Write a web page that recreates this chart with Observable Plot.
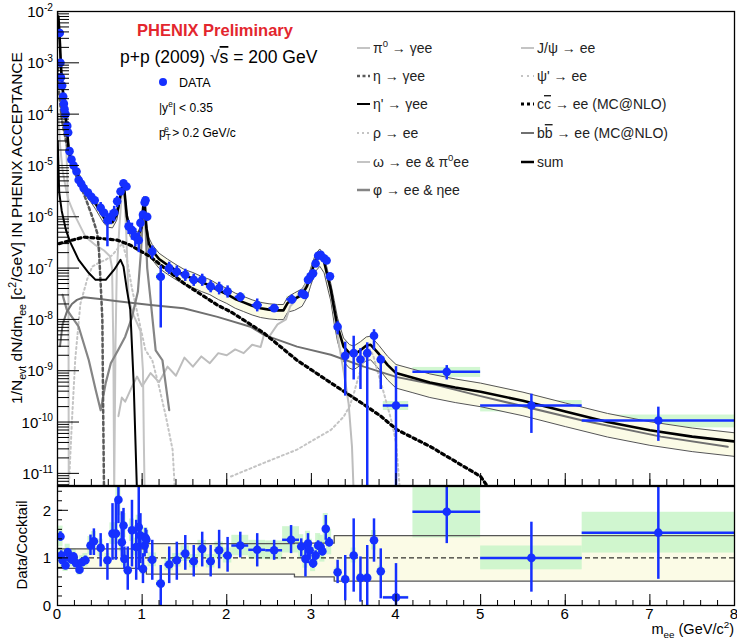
<!DOCTYPE html>
<html><head><meta charset="utf-8">
<script src="https://cdn.jsdelivr.net/npm/d3@7"></script>
<script src="https://cdn.jsdelivr.net/npm/@observablehq/plot@0.6"></script>
<style>
body{margin:0;background:#fff;}
#wrap{position:relative;width:737px;height:641px;overflow:hidden;font-family:"Liberation Sans",Arial,Helvetica,sans-serif;}
#wrap svg{position:absolute;left:0;overflow:visible;}
</style></head><body><div id="wrap"></div>
<script>
// ---------- DATA ----------
// top panel data: [mass, yield, errLow, errHigh, halfBinWidth, sysFraction]
const topData = [
 [0.027,3.8e-3,null,null,0,0.12],[0.035,1.0e-3,null,null,0,0.12],[0.04,5.2e-4,null,null,0,0.12],
 [0.055,3.6e-4,null,null,0,0.12],[0.067,2.2e-4,null,null,0,0.12],[0.075,1.6e-4,null,null,0,0.12],
 [0.083,1.25e-4,null,null,0,0.12],[0.095,1.0e-4,null,null,0,0.12],[0.115,5.9e-5,null,null,0,0.12],
 [0.126,4.4e-5,null,null,0,0.12],[0.142,1.9e-5,null,null,0,0.12],[0.165,1.3e-5,null,null,0,0.12],
 [0.19,1.0e-5,null,null,0,0.12],[0.225,7.6e-6,null,null,0,0.12],[0.25,5.2e-6,null,null,0,0.12],
 [0.28,4.4e-6,null,null,0,0.12],[0.31,3.6e-6,null,null,0,0.12],[0.36,2.95e-6,null,null,0,0.12],
 [0.40,2.45e-6,null,null,0,0.12],[0.44,2.1e-6,null,null,0,0.12],[0.51,1.5e-6,1.1e-6,1.9e-6,0,0.12],
 [0.55,1.2e-6,null,null,0,0.12],[0.59,8.5e-7,2.6e-7,1.1e-6,0,0.12],[0.63,1.0e-6,7e-7,1.3e-6,0,0.12],
 [0.67,1.2e-6,8e-7,1.6e-6,0,0.12],[0.705,2.0e-6,1.5e-6,2.5e-6,0,0.12],[0.745,3.1e-6,null,null,0,0.12],
 [0.78,4.5e-6,null,null,0,0.12],[0.815,3.9e-6,null,null,0,0.12],[0.84,6.5e-7,4.5e-7,8.5e-7,0,0.12],
 [0.88,5.5e-7,3.5e-7,7.5e-7,0,0.12],[0.92,4.1e-7,2.6e-7,5.8e-7,0,0.12],[0.96,3.5e-7,2e-7,5e-7,0,0.12],
 [0.98,7.6e-7,5e-7,1e-6,0,0.12],[1.01,1.1e-6,null,null,0,0.12],[1.03,1.9e-6,null,null,0,0.12],
 [1.04,2.1e-6,null,null,0,0.12],[1.06,1.0e-6,null,null,0,0.12],[1.12,2.1e-7,1.5e-7,2.7e-7,0.05,0.15],
 [1.22,6.8e-8,6.8e-9,1.1e-7,0.05,0.15],[1.32,1.0e-7,7.5e-8,1.3e-7,0.05,0.15],[1.41,8.5e-8,6.5e-8,1.1e-7,0.05,0.15],
 [1.51,7.4e-8,5.5e-8,9.5e-8,0.05,0.15],[1.61,5.9e-8,4.4e-8,7.6e-8,0.05,0.15],[1.71,5.9e-8,4.4e-8,7.6e-8,0.05,0.15],
 [1.81,4.4e-8,3.3e-8,5.7e-8,0.05,0.15],[1.91,4.1e-8,3e-8,5.3e-8,0.05,0.15],[2.01,3.5e-8,2.6e-8,4.5e-8,0.05,0.15],
 [2.16,2.75e-8,2.2e-8,3.3e-8,0.06,0.15],[2.36,1.9e-8,1.4e-8,2.5e-8,0.06,0.15],[2.56,1.66e-8,1.4e-8,1.95e-8,0.06,0.15],
 [2.77,2.45e-8,2e-8,3e-8,0.06,0.15],[2.89,3.2e-8,null,null,0,0.15],[2.92,3.0e-8,null,null,0,0.15],
 [2.96,5.9e-8,null,null,0,0.15],[2.99,6.9e-8,null,null,0,0.15],[3.02,7.9e-8,null,null,0,0.15],
 [3.05,1.23e-7,null,null,0,0.15],[3.08,1.74e-7,null,null,0,0.15],[3.11,1.82e-7,null,null,0,0.15],
 [3.15,1.55e-7,null,null,0,0.15],[3.18,1.41e-7,null,null,0,0.15],[3.22,6.9e-8,null,null,0,0.15],
 [3.31,7.2e-9,5e-9,9e-9,0,0.15],[3.40,1.95e-9,3.2e-10,3.6e-9,0,0.15],[3.50,2.2e-9,6.6e-10,4.7e-9,0,0.15],
 [3.58,1.66e-9,4.3e-10,2.7e-9,0,0.15],[3.66,2.2e-9,1e-12,3.5e-9,0,0.15],[3.74,4.8e-9,2.5e-9,6.3e-9,0,0.15],
 [3.82,1.66e-9,4.3e-10,2e-9,0,0.15],[4.0,2.1e-10,1e-12,1.2e-9,0.15,0.2],[4.6,9.5e-10,6.6e-10,1.26e-9,0.4,0.22],
 [5.6,2.1e-10,6e-11,3.5e-10,0.6,0.25],[7.1,1.07e-10,4.2e-11,1.95e-10,0.9,0.28]
];

// ratio panel data: [mass, data/cocktail, errLow, errHigh, halfBinWidth, sysFraction]
const ratioData = [
 [0.035,1.45,1.35,1.55,0,0.15],[0.044,1.05,0.95,1.15,0,0.15],[0.06,0.95,0.87,1.03,0,0.15],
 [0.095,0.84,0.77,0.91,0,0.15],[0.12,1.12,1.04,1.2,0,0.15],[0.145,1.0,0.92,1.08,0,0.15],
 [0.17,0.96,0.88,1.04,0,0.15],[0.19,1.03,0.95,1.11,0,0.15],[0.22,0.89,0.8,0.98,0,0.15],
 [0.26,0.75,0.67,0.83,0,0.15],[0.29,0.91,0.83,0.99,0,0.15],[0.33,0.95,0.86,1.04,0,0.15],
 [0.39,1.26,1.05,1.48,0,0.15],[0.43,1.35,1.05,1.61,0,0.15],[0.51,1.21,0.81,1.51,0,0.15],
 [0.59,0.95,0.53,1.30,0,0.15],[0.65,1.51,0.95,2.14,0,0.15],[0.69,1.51,0.95,2.21,0,0.15],
 [0.72,2.22,1.72,2.49,0,0.15],[0.76,1.33,1.02,1.97,0,0.15],[0.78,1.68,1.30,2.04,0,0.15],
 [0.79,0.98,0.77,1.23,0,0.15],[0.83,0.74,0.32,1.23,0,0.15],[0.88,1.58,0.81,2.21,0,0.15],
 [0.93,1.23,0.53,1.79,0,0.15],[0.96,1.65,0.74,2.53,0,0.15],[0.98,1.47,0.88,1.93,0,0.15],
 [1.01,0.77,0.46,1.09,0,0.15],[1.03,1.26,1.02,1.51,0,0.15],[1.04,1.42,1.2,1.62,0,0.15],
 [1.05,1.38,1.09,1.58,0,0.15],[1.12,0.96,0.53,1.37,0.05,0.15],[1.22,0.46,0,0.84,0.05,0.15],
 [1.32,0.86,0.46,1.23,0.05,0.15],[1.41,0.95,0.53,1.33,0.05,0.15],[1.51,1.09,0.74,1.47,0.05,0.15],
 [1.61,0.93,0.60,1.26,0.05,0.15],[1.71,1.19,0.81,1.54,0.05,0.15],[1.81,0.93,0.60,1.26,0.05,0.15],
 [1.91,1.16,0.77,1.58,0.05,0.15],[2.01,1.05,0.70,1.43,0.05,0.15],[2.16,1.26,1.0,1.54,0.1,0.17],
 [2.36,1.17,0.81,1.51,0.1,0.17],[2.56,1.16,0.95,1.37,0.1,0.17],[2.76,1.38,1.09,1.68,0.1,0.2],
 [2.88,1.24,1.02,1.40,0,0.2],[2.93,0.98,0.60,1.23,0,0.2],[2.96,1.30,0.88,1.51,0,0.2],
 [2.98,1.16,0.95,1.35,0,0.2],[3.02,0.89,0.78,1.0,0,0.2],[3.05,1.05,0.95,1.15,0,0.2],
 [3.08,1.26,1.16,1.36,0,0.2],[3.11,1.23,1.13,1.33,0,0.2],[3.13,1.14,1.04,1.24,0,0.2],
 [3.17,1.61,1.37,1.89,0,0.2],[3.21,1.33,1.23,1.43,0,0.2],[3.31,0.70,0.46,0.95,0,0.15],
 [3.40,0.55,0.1,1.05,0,0.15],[3.50,1.05,0.28,1.82,0,0.15],[3.58,0.58,0.07,1.02,0,0.15],
 [3.66,0.58,0,1.26,0,0.15],[3.74,1.37,0.91,1.82,0,0.15],[3.82,0.72,0.14,1.19,0,0.15],
 [4.0,0.17,0,0.88,0.15,0.15],[4.6,1.97,1.3,2.6,0.4,0.28],[5.6,1.0,0.28,1.75,0.6,0.25],
 [7.1,1.53,0.55,2.6,0.9,0.28]
];

// cocktail components: [mass, yield]
const pi0Curve = [[0.002,1.2e-2],[0.01,6e-3],[0.02,3e-3],[0.03,1.5e-3],[0.05,4e-4],[0.07,1.5e-4],[0.09,5e-5],[0.105,2e-5],[0.115,7e-6],[0.122,2e-6],[0.127,3e-7],[0.13,2e-8],[0.133,4e-12]];
const etaCurve = [[0.003,8e-4],[0.02,2.5e-4],[0.05,8e-5],[0.1,3e-5],[0.15,1.4e-5],[0.2,8e-6],[0.25,5e-6],[0.3,3.1e-6],[0.35,1.9e-6],[0.41,1e-6],[0.47,4.8e-7],[0.49,2.2e-7],[0.51,5e-8],[0.53,1e-8],[0.54,1.5e-10],[0.55,4e-12]];
const etaPrimeCurve = [[0.003,3e-5],[0.02,3e-6],[0.05,1.3e-6],[0.1,5.5e-7],[0.15,3.2e-7],[0.25,1.45e-7],[0.37,8e-8],[0.45,5.9e-8],[0.57,5.9e-8],[0.67,9.3e-8],[0.745,1.45e-7],[0.78,1.07e-7],[0.82,3.8e-8],[0.86,1.55e-8],[0.9,5.8e-10],[0.94,4e-12]];
const rhoCurve = [[0.13,4e-12],[0.17,1e-10],[0.21,1.7e-9],[0.27,2e-8],[0.35,6e-8],[0.41,1.07e-7],[0.5,1.3e-7],[0.57,1.45e-7],[0.65,1.8e-7],[0.72,2.5e-7],[0.77,3e-7],[0.82,1.5e-7],[0.88,4e-8],[0.96,1e-8],[1.04,2.5e-9],[1.12,1.6e-9],[1.2,4.9e-10],[1.28,1.3e-10],[1.36,2.9e-11],[1.39,4e-12]];
const omegaCurve = [[0.01,1e-4],[0.03,2.5e-5],[0.06,8e-6],[0.1,3.5e-6],[0.13,2.1e-6],[0.2,1.1e-6],[0.33,4.1e-7],[0.45,2.8e-7],[0.55,2.2e-7],[0.62,1.7e-7],[0.645,1e-7],[0.66,3e-9],[0.67,4e-12],[0.685,3e-9],[0.7,8e-8],[0.73,6e-7],[0.76,2.8e-6],[0.775,4e-6],[0.79,2.5e-6],[0.81,6e-7],[0.82,2.2e-7],[0.84,2.5e-8],[0.9,1.2e-8],[0.98,6e-9],[1.01,1e-9],[1.02,4.5e-11],[1.03,4e-12]];
const phiCurve = [[0.06,3e-8],[0.11,1.55e-8],[0.25,7.2e-9],[0.37,1.6e-9],[0.45,4.3e-10],[0.51,1.7e-10],[0.57,5.8e-10],[0.63,1.4e-9],[0.72,2.6e-9],[0.8,4.6e-9],[0.88,1.1e-8],[0.95,3.5e-8],[0.99,2.5e-7],[1.01,1.2e-6],[1.02,1.9e-6],[1.03,1.6e-6],[1.045,4e-7],[1.06,1e-7],[1.1,2.4e-8],[1.16,2.5e-9],[1.24,1.6e-9],[1.32,1.7e-10]];
const jpsiCurve = [[0.72,1.3e-10],[0.76,3e-10],[0.8,2.5e-10],[0.88,4.9e-10],[0.94,7.7e-10],[1.0,5e-10],[1.1,9e-10],[1.2,6e-10],[1.3,1.2e-9],[1.4,8e-10],[1.5,1.8e-9],[1.6,1.2e-9],[1.7,1.9e-9],[1.8,1.4e-9],[1.9,2.2e-9],[2.0,2.0e-9],[2.1,2.6e-9],[2.2,2.2e-9],[2.3,3.2e-9],[2.4,2.9e-9],[2.44,5e-9],[2.5,4.6e-9],[2.6,8e-9],[2.7,1e-8],[2.75,1.8e-8],[2.8,2.2e-8],[2.85,3.2e-8],[2.9,3.8e-8],[2.95,5.5e-8],[3.0,8e-8],[3.05,1.3e-7],[3.1,1.65e-7],[3.13,1.5e-7],[3.17,1.1e-7],[3.22,4e-8],[3.28,1e-8],[3.33,3e-9],[3.38,1e-9],[3.44,2.3e-10],[3.48,3.3e-11],[3.5,4e-12]];
const psiPrimeCurve = [[2.05,8.7e-12],[2.44,1.6e-11],[2.83,2.9e-11],[3.23,7e-11],[3.38,1.26e-10],[3.45,2e-10],[3.5,3.5e-10],[3.55,7e-10],[3.6,1.3e-9],[3.65,2.2e-9],[3.69,2.6e-9],[3.73,2e-9],[3.78,1e-9],[3.85,4e-10],[3.95,1e-10],[4.0,4e-11],[4.05,4e-12]];
const ccbarCurve = [[0.02,3e-7],[0.11,3.3e-7],[0.31,4e-7],[0.5,3.8e-7],[0.71,3.5e-7],[0.86,2.8e-7],[1.1,1.65e-7],[1.49,5.1e-8],[1.89,1.9e-8],[2.05,1.4e-8],[2.28,8e-9],[2.44,5.4e-9],[2.83,1.6e-9],[3.23,5.8e-10],[3.62,2.2e-10],[3.82,1.3e-10],[4.01,7.1e-11],[4.41,3.3e-11],[5.0,8.7e-12],[5.1,5e-12]];
const bbbarCurve = [[0.03,3e-9],[0.06,8e-9],[0.11,1.4e-8],[0.17,2e-8],[0.23,2.4e-8],[0.31,2.7e-8],[0.5,2.5e-8],[0.71,2.25e-8],[1.1,1.9e-8],[1.49,1.65e-8],[1.89,1.12e-8],[2.28,7.2e-9],[2.44,5e-9],[2.83,2.95e-9],[3.23,2.05e-9],[3.62,1.2e-9],[4.01,7.5e-10],[4.41,5.6e-10],[5.0,3.2e-10],[6.18,1.1e-10],[7.13,5.2e-11],[7.92,3.3e-11]];
const sumCurve = [[0.01,8e-3],[0.02,4.5e-3],[0.03,2.2e-3],[0.04,9e-4],[0.05,5e-4],[0.06,3.3e-4],[0.07,2.3e-4],[0.08,1.6e-4],[0.09,1.15e-4],[0.1,8e-5],[0.11,5.5e-5],[0.12,3.5e-5],[0.13,2.3e-5],[0.14,1.7e-5],[0.16,1.3e-5],[0.18,1.05e-5],[0.2,8.8e-6],[0.25,6e-6],[0.3,4.2e-6],[0.35,3.1e-6],[0.4,2.4e-6],[0.45,1.8e-6],[0.5,1.3e-6],[0.55,9.5e-7],[0.6,8e-7],[0.65,7.8e-7],[0.7,1.1e-6],[0.74,2.4e-6],[0.77,4.2e-6],[0.79,3.3e-6],[0.82,1.0e-6],[0.86,5.2e-7],[0.9,4.6e-7],[0.95,4.2e-7],[0.99,6e-7],[1.01,1.4e-6],[1.02,2.1e-6],[1.035,1.5e-6],[1.05,6e-7],[1.08,3e-7],[1.12,2.2e-7],[1.2,1.5e-7],[1.3,1.15e-7],[1.4,9e-8],[1.5,7.2e-8],[1.6,6.3e-8],[1.7,5.3e-8],[1.8,4.6e-8],[1.9,3.7e-8],[2.0,3.1e-8],[2.1,2.5e-8],[2.2,2.15e-8],[2.3,1.85e-8],[2.4,1.65e-8],[2.5,1.55e-8],[2.6,1.5e-8],[2.67,1.5e-8],[2.72,2.1e-8],[2.8,2.5e-8],[2.89,3.0e-8],[2.95,4.5e-8],[2.99,7.4e-8],[3.05,1.45e-7],[3.1,1.8e-7],[3.15,1.35e-7],[3.2,6e-8],[3.23,3.8e-8],[3.27,1.6e-8],[3.31,7.2e-9],[3.38,2.95e-9],[3.45,2.2e-9],[3.5,2.05e-9],[3.58,2.5e-9],[3.65,3.1e-9],[3.7,3.2e-9],[3.75,2.6e-9],[3.8,2.1e-9],[3.9,1.3e-9],[4.0,9e-10],[4.2,7.3e-10],[4.4,5.9e-10],[4.7,4.7e-10],[5.0,3.9e-10],[5.5,2.6e-10],[6.0,1.6e-10],[6.5,1.0e-10],[7.0,6.9e-11],[7.5,5.2e-11],[8.0,4.2e-11]];

// cocktail systematic band (relative), step edges in mass
const bandEdges = [0, 1.05, 2.8, 3.27, 8];
const bandLow = [0.78, 0.66, 0.6, 0.51];
const bandHigh = [1.19, 1.30, 1.31, 1.47];

// axes
const yExponents = [-2,-3,-4,-5,-6,-7,-8,-9,-10,-11];
const xTickLabels = [0,1,2,3,4,5,6,7,8];
const ratioTickLabels = [0,1,2];

// ---------- DRAW ----------
const blue = "#1530ff";
const lightGray = "#c4c4c4";
const wrap = document.getElementById("wrap");

const segIndex = m => { for (let i = 0; i < bandLow.length; i++) if (m < bandEdges[i+1]) return i; return bandLow.length - 1; };
const bandTop = sumCurve.map(([m, y]) => ({m, lo: y * bandLow[segIndex(m)], hi: y * bandHigh[segIndex(m)]}));
const bandRatio = bandEdges.map((e, i) => ({m: e, lo: bandLow[Math.min(i, bandLow.length-1)], hi: bandHigh[Math.min(i, bandHigh.length-1)]}));

const yMajor = yExponents.map(e => Math.pow(10, e));
const yMinor = [];
for (let e = -12; e <= -3; e++) for (let k = 2; k <= 9; k++) { const v = k * Math.pow(10, e); if (v > 5.8e-12 && v < 1e-2) yMinor.push(v); }
const xMinor = d3.range(0, 8.001, 0.2).map(v => +v.toFixed(2));
const rMinor = d3.range(0, 2.501, 0.2).map(v => +v.toFixed(2));

const crv = (arr, o) => Plot.line(arr, {x: d => d[0], y: d => d[1], clip: true, strokeLinejoin: "round", ...o});
const noText = () => "";

const topPlot = Plot.plot({
  width: 737, height: 486, marginLeft: 57, marginRight: 3, marginTop: 11, marginBottom: 1,
  x: {domain: [0, 8], axis: null},
  y: {type: "log", domain: [5.8e-12, 1e-2], axis: null},
  style: {background: "transparent"},
  marks: [
    Plot.rect(topData, {x1: d => d[0] - Math.max(d[4], 0.03), x2: d => d[0] + Math.max(d[4], 0.03), y1: d => d[1]*(1-d[5]), y2: d => d[1]*(1+d[5]), fill: "#d2f7d2", clip: true}),
    Plot.areaY(bandTop, {x: "m", y1: "lo", y2: "hi", fill: "#fbfbe6", clip: true}),
    Plot.line(bandTop, {x: "m", y: "lo", stroke: "#555", strokeWidth: 1, clip: true}),
    Plot.line(bandTop, {x: "m", y: "hi", stroke: "#555", strokeWidth: 1, clip: true}),
    crv(psiPrimeCurve, {stroke: lightGray, strokeWidth: 2, strokeDasharray: "2,3"}),
    crv(jpsiCurve, {stroke: "#bdbdbd", strokeWidth: 2}),
    crv(rhoCurve, {stroke: lightGray, strokeWidth: 2, strokeDasharray: "2,3"}),
    crv(omegaCurve, {stroke: lightGray, strokeWidth: 2}),
    crv(pi0Curve, {stroke: lightGray, strokeWidth: 2}),
    crv(phiCurve, {stroke: "#858585", strokeWidth: 2.2}),
    crv(bbbarCurve, {stroke: "#707070", strokeWidth: 2}),
    crv(etaCurve, {stroke: "#5a5a5a", strokeWidth: 2.5, strokeDasharray: "3,3"}),
    crv(etaPrimeCurve, {stroke: "#000", strokeWidth: 2}),
    crv(ccbarCurve, {stroke: "#000", strokeWidth: 3.2, strokeDasharray: "3,3.5"}),
    crv(sumCurve, {stroke: "#000", strokeWidth: 2.6}),
    Plot.ruleX(topData.filter(d => d[2] != null), {x: d => d[0], y1: d => d[2], y2: d => d[3], stroke: blue, strokeWidth: 2.5, clip: true}),
    Plot.ruleY(topData.filter(d => d[4] > 0), {y: d => d[1], x1: d => d[0] - d[4], x2: d => d[0] + d[4], stroke: blue, strokeWidth: 2.5, clip: true}),
    Plot.dot(topData, {x: d => d[0], y: d => d[1], r: 4.3, fill: blue, stroke: "none", clip: true}),
    Plot.axisY(yMajor, {anchor: "left", tickSize: -22, tickFormat: noText, label: null, stroke: "#000", strokeWidth: 1}),
    Plot.axisY(yMinor, {anchor: "left", tickSize: -12, tickFormat: noText, label: null, stroke: "#000", strokeWidth: 1}),
    Plot.axisX(xTickLabels, {anchor: "bottom", tickSize: -12, tickFormat: noText, label: null}),
    Plot.axisX(xMinor, {anchor: "bottom", tickSize: -6, tickFormat: noText, label: null}),
    Plot.frame({stroke: "#000", strokeWidth: 1.3})
  ]
});
topPlot.style.top = "0px";
wrap.appendChild(topPlot);

const botPlot = Plot.plot({
  width: 737, height: 156, marginLeft: 57, marginRight: 3, marginTop: 1, marginBottom: 36,
  x: {domain: [0, 8], axis: null},
  y: {domain: [0, 2.5], axis: null},
  style: {background: "transparent"},
  marks: [
    Plot.areaY(bandRatio, {x: "m", y1: "lo", y2: "hi", curve: "step-after", fill: "#fbfbe6"}),
    Plot.rect(ratioData, {x1: d => d[0] - Math.max(d[4], 0.03), x2: d => d[0] + Math.max(d[4], 0.03), y1: d => d[1]*(1-d[5]), y2: d => d[1]*(1+d[5]), fill: "#c8f5c8", fillOpacity: 0.85, clip: true}),
    Plot.line(bandRatio, {x: "m", y: "lo", curve: "step-after", stroke: "#555", strokeWidth: 1.3}),
    Plot.line(bandRatio, {x: "m", y: "hi", curve: "step-after", stroke: "#555", strokeWidth: 1.3}),
    Plot.ruleY([1], {stroke: "#000", strokeWidth: 1, strokeDasharray: "5,3"}),
    Plot.ruleX(ratioData, {x: d => d[0], y1: d => d[2], y2: d => d[3], stroke: blue, strokeWidth: 2.5, clip: true}),
    Plot.ruleY(ratioData.filter(d => d[4] > 0), {y: d => d[1], x1: d => d[0] - d[4], x2: d => d[0] + d[4], stroke: blue, strokeWidth: 2.5, clip: true}),
    Plot.dot(ratioData, {x: d => d[0], y: d => d[1], r: 4.3, fill: blue, stroke: "none", clip: true}),
    Plot.axisY(ratioTickLabels, {anchor: "left", tickSize: -11, tickFormat: noText, label: null}),
    Plot.axisY(rMinor, {anchor: "left", tickSize: -5, tickFormat: noText, label: null}),
    Plot.axisX(xTickLabels, {anchor: "bottom", tickSize: -11, tickFormat: noText, label: null}),
    Plot.axisX(xMinor, {anchor: "bottom", tickSize: -5, tickFormat: noText, label: null}),
    Plot.frame({stroke: "#000", strokeWidth: 1.3})
  ]
});
botPlot.style.top = "485px";
wrap.appendChild(botPlot);

// ---------- TEXT OVERLAY ----------
const ov = d3.select(wrap).append("svg").attr("width", 737).attr("height", 641).style("top", "0px")
  .style("pointer-events", "none").attr("font-family", '"Liberation Sans",Arial,Helvetica,sans-serif');

function rich(g, x, y, parts, size, opts = {}) {
  const t = g.append("text").attr("x", x).attr("y", y).attr("font-size", size).attr("fill", opts.fill || "#000");
  if (opts.anchor) t.attr("text-anchor", opts.anchor);
  if (opts.weight) t.attr("font-weight", opts.weight);
  if (opts.transform) t.attr("transform", opts.transform);
  let shift = 0;
  for (const p of parts) {
    const [s, kind, dx] = Array.isArray(p) ? p : [p, "n"];
    const ts = t.append("tspan").text(s);
    let target = 0;
    if (kind === "sup") { target = -size * 0.42; ts.attr("font-size", size * 0.68); }
    else if (kind === "sub") { target = size * 0.25; ts.attr("font-size", size * 0.68); }
    else if (kind === "over") { ts.style("text-decoration", "overline"); }
    if (target !== shift) { ts.attr("dy", target - shift); shift = target; }
    if (dx) ts.attr("dx", dx);
  }
  return t;
}

// y tick labels (top, log)
const ys = topPlot.scale("y"), xs = topPlot.scale("x");
for (const e of yExponents) {
  const py = ys.apply(Math.pow(10, e));
  rich(ov, 53, py + 6, ["10", [String(e), "sup"]], 15, {anchor: "end"});
}
// ratio y tick labels
const rys = botPlot.scale("y");
for (const v of ratioTickLabels) {
  rich(ov, 51, 485 + rys.apply(v) + 6, [String(v)], 15, {anchor: "end"});
}
// x tick labels
for (const v of xTickLabels) {
  rich(ov, xs.apply(v), 619, [String(v)], 15, {anchor: "middle"});
}
// axis titles
rich(ov, 734, 634, ["m", ["ee", "sub"], ["\u00a0(GeV/c", "n"], ["2", "sup"], [")", "n"]], 14.5, {anchor: "end"});
rich(ov, 0, 0, ["Data/Cocktail"], 15, {anchor: "middle", transform: "translate(27,545) rotate(-90)"});
rich(ov, 0, 0, ["1/N", ["evt", "sub"], [" dN/dm", "n"], ["ee", "sub"], [" [c", "n"], ["2", "sup"], ["/GeV] IN PHENIX ACCEPTANCE", "n"]], 15.5,
  {anchor: "middle", transform: "translate(22,228) rotate(-90)"});

// titles
rich(ov, 215, 36, ["PHENIX Preliminary"], 16.5, {anchor: "middle", weight: "bold", fill: "#e3262e"});
rich(ov, 120, 63, ["p+p (2009) \u221a", ["s", "over"], [" = 200 GeV", "n"]], 17.5);
ov.append("circle").attr("cx", 163).attr("cy", 82).attr("r", 4).attr("fill", blue);
rich(ov, 179, 87, ["DATA"], 12.5);
rich(ov, 159, 112, ["|y", ["e", "sup"], ["| < 0.35", "n"]], 12);
rich(ov, 159, 137, ["p", ["T", "sub"], ["e", "sup", -5.5], [" > 0.2 GeV/c", "n"]], 12);

// legend
const legend = [
  {x: 357, y: 48, st: {stroke: lightGray, w: 2}, parts: ["\u03c0", ["0", "sup"], [" \u2192 \u03b3ee", "n"]]},
  {x: 357, y: 76, st: {stroke: "#5a5a5a", w: 2.5, dash: "3,2.5"}, parts: ["\u03b7 \u2192 \u03b3ee"]},
  {x: 357, y: 104, st: {stroke: "#000", w: 2}, parts: ["\u03b7' \u2192 \u03b3ee"]},
  {x: 357, y: 133, st: {stroke: lightGray, w: 2, dash: "2,3"}, parts: ["\u03c1 \u2192 ee"]},
  {x: 357, y: 162, st: {stroke: lightGray, w: 2}, parts: ["\u03c9 \u2192 ee & \u03c0", ["0", "sup"], ["ee", "n"]]},
  {x: 357, y: 190, st: {stroke: "#858585", w: 2.5}, parts: ["\u03c6 \u2192 ee & \u03b7ee"]},
  {x: 521, y: 48, st: {stroke: lightGray, w: 2}, parts: ["J/\u03c8 \u2192 ee"]},
  {x: 521, y: 76, st: {stroke: lightGray, w: 2, dash: "2,4"}, parts: ["\u03c8' \u2192 ee"]},
  {x: 521, y: 104, st: {stroke: "#000", w: 3, dash: "3,3"}, parts: ["c", ["c", "over"], [" \u2192 ee (MC@NLO)", "n"]]},
  {x: 521, y: 133, st: {stroke: "#707070", w: 2}, parts: ["b", ["b", "over"], [" \u2192 ee (MC@NLO)", "n"]]},
  {x: 521, y: 162, st: {stroke: "#000", w: 2.5}, parts: ["sum"]}
];
for (const L of legend) {
  const ln = ov.append("line").attr("x1", L.x).attr("x2", L.x + 13).attr("y1", L.y).attr("y2", L.y)
    .attr("stroke", L.st.stroke).attr("stroke-width", L.st.w);
  if (L.st.dash) ln.attr("stroke-dasharray", L.st.dash);
  rich(ov, L.x + 16, L.y + 5, L.parts, 14, {fill: "#222"});
}
</script></body></html>
